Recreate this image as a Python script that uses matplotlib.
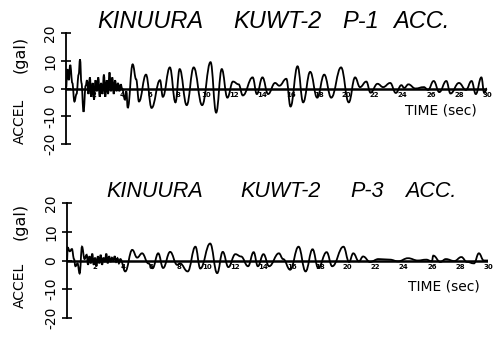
import matplotlib
matplotlib.use("Agg")
import matplotlib.pyplot as plt
from matplotlib.path import Path
from matplotlib.patches import PathPatch

# ---------------- data ----------------
p1_time = [0.0, 0.1, 0.2, 0.3, 0.45, 0.6, 0.75, 0.9, 1.0, 1.1, 1.25, 1.4,
           1.5, 1.6, 1.7, 1.8, 1.9, 2.0, 2.1, 2.2, 2.3, 2.4, 2.5, 2.6, 2.7, 2.8,
           2.9, 3.0, 3.1, 3.2, 3.3, 3.4, 3.5, 3.6, 3.7, 3.8, 3.9, 4.0,
           4.2, 4.3, 4.4, 4.75, 5.0, 5.2, 5.7, 6.1, 6.7, 6.9, 7.4, 7.8, 8.1,
           8.6, 9.1, 9.7, 10.3, 10.7, 11.1, 11.5, 11.9, 12.3, 12.6, 13.3, 13.6,
           14.0, 14.4, 14.9, 15.2, 15.7, 16.0, 16.5, 16.9, 17.4, 17.9, 18.4,
           18.9, 19.6, 20.15, 20.6, 20.95, 21.4, 21.7, 22.2, 22.6, 23.1, 23.5,
           23.9, 24.1, 24.4, 24.9, 25.5, 25.8, 26.2, 26.6, 27.1, 27.4, 28.0,
           28.5, 28.9, 29.2, 29.6, 29.8, 30.0]
p1_accel = [0.0, 7.0, 3.0, 8.5, 2.0, -4.7, -2.0, 5.0, 10.5, 2.0, -8.4, 1.0,
            3.0, -2.0, 4.0, -3.0, 2.0, -4.0, 3.0, -1.0, 4.0, -3.0, 2.0, -2.0, 5.0, -3.0,
            3.0, -2.0, 5.8, -1.0, 4.0, -2.0, 3.0, -1.0, 2.0, -1.0, 1.5, 0.0,
            -4.0, -1.0, -7.0, 8.7, 3.3, -4.7, 5.0, -7.0, 3.0, -3.0, 7.6, -5.0, 7.0,
            -6.0, 7.6, -6.0, 9.5, -8.7, 7.0, -3.3, 2.5, 1.5, -2.5, 4.0, -2.0,
            4.0, -2.0, 2.0, 1.0, 3.5, -6.5, 8.0, -5.0, 6.0, -3.3, 5.0,
            -3.3, 7.6, -5.0, 4.0, 0.5, 2.5, -1.5, 1.7, 0.5, 2.0, -1.6,
            1.2, 0.2, 1.5, 0.0, 0.5, -0.5, 2.7, -1.3, 2.7, -1.8, 2.0,
            -0.5, 2.7, -2.0, 4.0, -1.6, 0.0]

p3_time = [0.0, 0.05, 0.2, 0.35, 0.5, 0.6, 0.75, 0.9, 1.07, 1.25,
           1.4, 1.5, 1.6, 1.7, 1.8, 1.9, 2.0, 2.1, 2.2, 2.3, 2.4, 2.5, 2.6, 2.7,
           2.8, 2.9, 3.0, 3.1, 3.2, 3.3, 3.4, 3.5, 3.6, 3.7, 3.8,
           4.15, 4.65, 5.0, 5.35, 5.8, 6.1, 6.5, 6.85, 7.35, 7.85, 8.05, 8.6,
           9.15, 9.5, 10.2, 10.7, 11.1, 11.5, 12.0, 12.4, 12.9, 13.3, 13.6,
           14.0, 14.4, 15.1, 15.4, 15.9, 16.5, 17.0, 17.5, 17.9, 18.5, 18.9,
           19.7, 20.1, 20.4, 20.8, 21.1, 21.6, 22.2, 23.0, 23.6, 24.3, 25.0,
           25.6, 26.0, 26.1, 26.6, 27.0, 27.6, 28.1, 28.5, 29.0, 29.35, 29.7, 30.0]
p3_accel = [0.0, 4.5, 3.2, 4.0, 0.5, -2.0, -1.0, -4.5, 4.8, 0.5,
            2.0, -1.5, 1.5, -1.0, 2.4, -1.5, 1.0, -2.0, 1.5, -1.0, 2.0, -1.5, 1.0, -0.5,
            2.4, -1.0, 1.5, -0.5, 1.0, 0.0, 1.5, -0.5, 0.8, -1.0, 0.5,
            -3.8, 3.7, 1.0, 2.5, -1.0, -2.7, 2.5, -2.6, 3.0, -1.5, -1.0, -3.8,
            4.8, -2.8, 5.9, -4.4, 3.0, -2.3, 2.2, 1.4, -2.0, 2.9, -2.0,
            2.2, -2.0, 2.5, 0.5, -3.2, 4.8, -3.8, 3.9, -2.6, 2.9, -2.0,
            4.8, -0.5, 2.5, -0.3, 1.4, -0.5, 0.5, 0.3, -0.3, 0.8, 0.0,
            0.3, -0.3, 1.7, -0.5, 0.5, -0.2, 1.2, -0.5, -1.0, 2.5, 0.0, 0.0]

time_ticks = [2, 4, 6, 8, 10, 12, 14, 16, 18, 20, 22, 24, 26, 28, 30]
accel_ticks = [-20, -10, 0, 10, 20]
accel_ticklabels = ["-20", "-10", "0", "10", "20"]

title1_words = ["KINUURA", "KUWT-2", "P-1", "ACC."]
title2_words = ["KINUURA", "KUWT-2", "P-3", "ACC."]
xlabel_text = "TIME (sec)"

# ---------------- figure ----------------
W, H = 502, 338
fig = plt.figure(figsize=(W / 100, H / 100), dpi=100)
fig.patch.set_facecolor("white")


def fx(px):
    return px / W


def fy(py):
    return 1 - py / H


def smooth_trace(ax, t, a):
    # pen-recorder style: each peak-to-peak stroke drawn as a cubic curve
    verts = [(t[0], a[0])]
    codes = [Path.MOVETO]
    for i in range(1, len(t)):
        t0, a0, t1, a1 = t[i - 1], a[i - 1], t[i], a[i]
        d = (t1 - t0) * 0.42
        verts += [(t0 + d, a0), (t1 - d, a1), (t1, a1)]
        codes += [Path.CURVE4] * 3
    patch = PathPatch(Path(verts, codes), facecolor="none", edgecolor="black",
                      lw=1.3, zorder=3, clip_on=False)
    ax.add_patch(patch)


def make_panel(rect, t, a):
    ax = fig.add_axes(rect)
    ax.set_xlim(0, 30)
    ax.set_ylim(-20, 20)
    for s in ("top", "right", "bottom"):
        ax.spines[s].set_visible(False)
    ax.spines["left"].set_linewidth(1.3)
    ax.set_xticks([])
    ax.set_yticks(accel_ticks)
    ax.set_yticklabels(accel_ticklabels, rotation=90, va="center",
                       fontsize=10)
    ax.tick_params(axis="y", direction="inout", length=7, width=1.2, pad=3)
    ax.axhline(0, color="black", lw=1.8, zorder=2)
    smooth_trace(ax, t, a)
    for tt in time_ticks:
        ax.text(tt, -2.4, str(tt), fontsize=5, fontweight="bold",
                ha="center", va="center", zorder=4)
    ax.patch.set_visible(False)
    return ax


ax1 = make_panel([fx(66), fy(144), fx(487 - 66), (144 - 33) / H], p1_time, p1_accel)
ax2 = make_panel([fx(67), fy(318), fx(488 - 67), (318 - 203) / H], p3_time, p3_accel)

# titles
title_font = dict(family="Liberation Sans", style="italic", color="black")
for word, x in zip(title1_words, [97, 233, 342, 393]):
    fig.text(fx(x), fy(28), word, fontsize=17, ha="left", va="baseline", **title_font)
for word, x in zip(title2_words, [106, 240, 350, 405]):
    fig.text(fx(x), fy(197), word, fontsize=15.5, ha="left", va="baseline", **title_font)

# y labels
fig.text(fx(20), fy(121), "ACCEL", rotation=90, fontsize=10, ha="center", va="center")
fig.text(fx(20), fy(54), "(gal)", rotation=90, fontsize=11.5, ha="center", va="center")
fig.text(fx(20), fy(285), "ACCEL", rotation=90, fontsize=10, ha="center", va="center")
fig.text(fx(20), fy(221), "(gal)", rotation=90, fontsize=11.5, ha="center", va="center")

# time labels
fig.text(fx(441), fy(111), xlabel_text, fontsize=10, ha="center", va="center")
fig.text(fx(444), fy(287), xlabel_text, fontsize=10, ha="center", va="center")

fig.savefig("out.png", dpi=100, facecolor="white")
